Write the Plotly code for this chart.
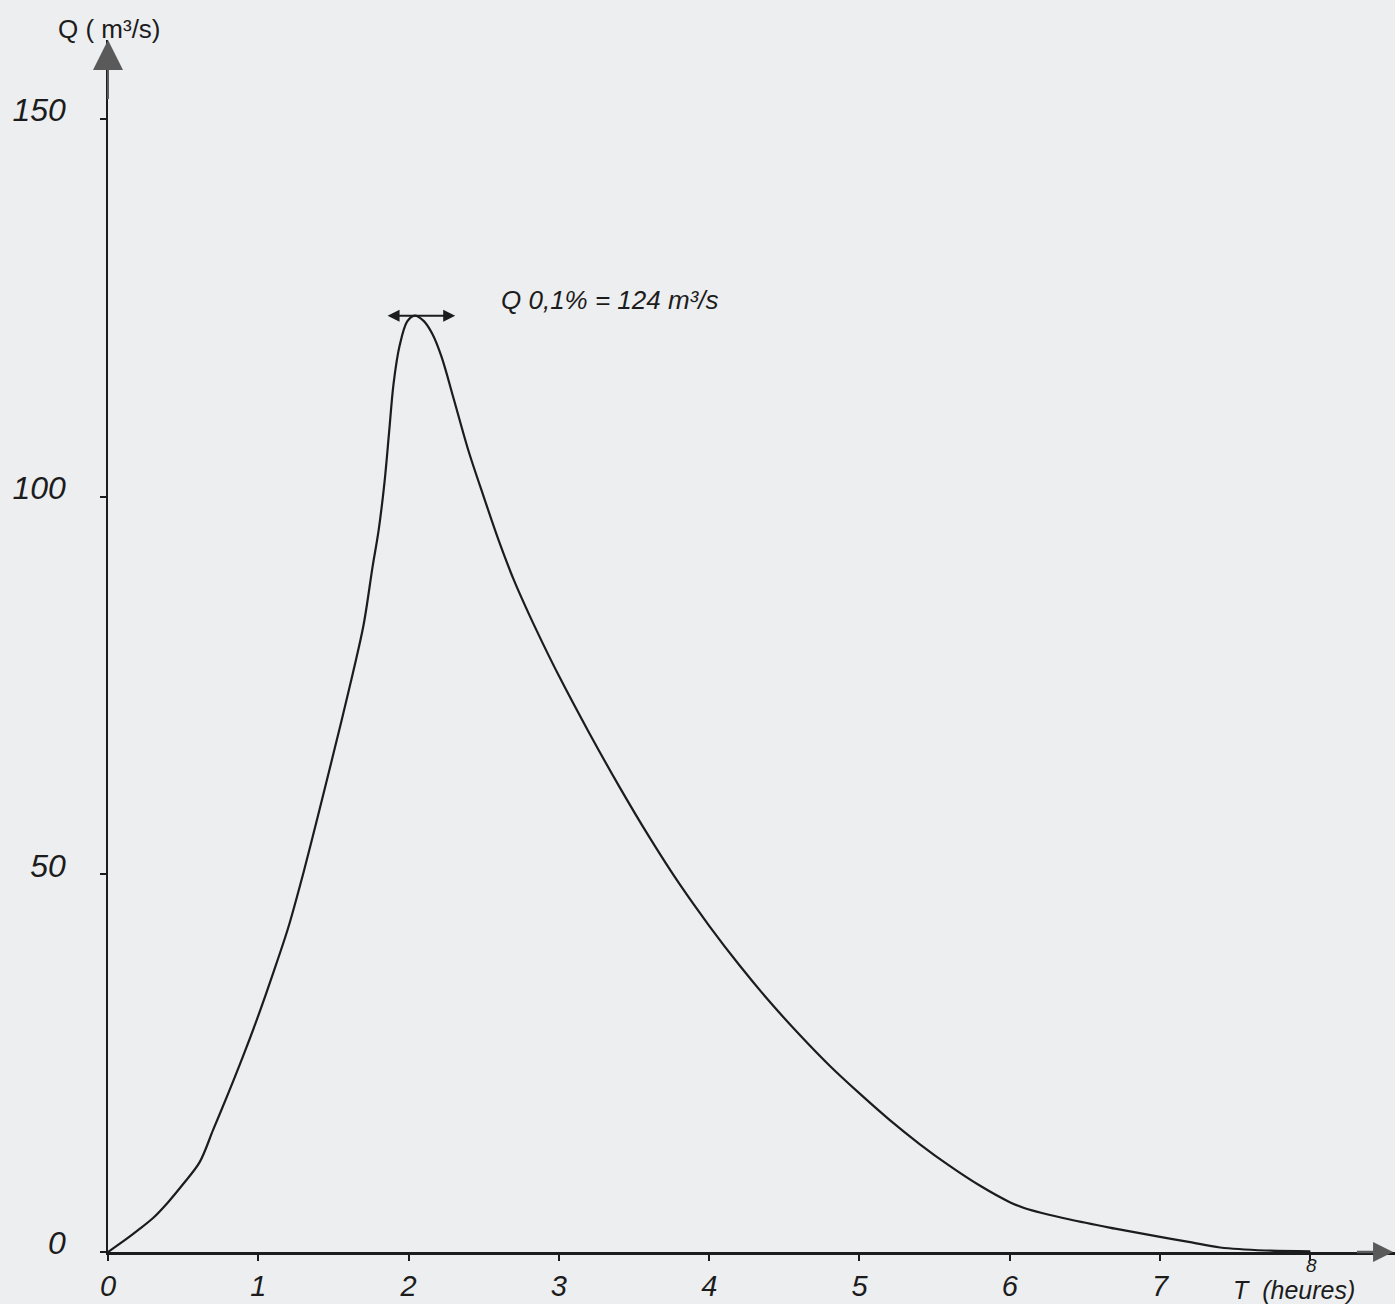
import plotly.graph_objects as go

# Hydrograph data
T_hours = [0, 0.10, 0.20, 0.30, 0.40, 0.50, 0.61, 0.70, 0.80, 0.90, 1.00, 1.10,
           1.20, 1.30, 1.40, 1.50, 1.60, 1.70, 1.76, 1.80, 1.84, 1.87, 1.90, 1.94, 1.99,
           2.04, 2.10, 2.16, 2.22, 2.30, 2.40, 2.50, 2.60, 2.70, 2.80, 2.90, 3.00,
           3.20, 3.40, 3.60, 3.80, 4.00, 4.20, 4.40, 4.60, 4.80, 5.00, 5.20, 5.40,
           5.60, 5.80, 6.00, 6.10, 6.40, 6.70, 7.00, 7.20, 7.40, 7.70, 8.00]
Q_m3s = [0, 1.4, 2.9, 4.5, 6.6, 9.0, 11.9, 16.2, 21.0, 26.0, 31.3, 37.0,
         43.0, 50.2, 58.0, 66.0, 74.2, 83.0, 90.7, 95.5, 102.0, 108.5, 115.0, 120.0, 123.2,
         124.0, 123.3, 121.5, 118.5, 113.0, 106.0, 100.0, 94.2, 89.0, 84.5, 80.3, 76.3,
         68.8, 61.7, 55.0, 48.8, 43.2, 38.0, 33.2, 28.8, 24.7, 21.0, 17.5, 14.3,
         11.4, 8.8, 6.6, 5.8, 4.3, 3.1, 2.0, 1.3, 0.6, 0.2, 0.1]

x_ticks = [0, 1, 2, 3, 4, 5, 6, 7, 8]
x_ticklabels = ["0", "1", "2", "3", "4", "5", "6", "7", ""]
y_ticks = [0, 50, 100, 150]
y_ticklabels = ["0", "50", "100", "150"]

peak_value = 124
peak_time = 2.04

INK = "#1c1c1c"
ARROW = "#5a5a5a"
PAPER = "#eceef0"
HAND = "Liberation Sans"

X_MAX = 8.563
Y_MAX = 160.5


def px(x):
    return x / X_MAX


def py(y):
    return y / Y_MAX


fig = go.Figure()
fig.add_trace(go.Scatter(
    x=T_hours, y=Q_m3s, mode="lines",
    line=dict(color=INK, width=2.2, shape="spline", smoothing=0.9),
    hoverinfo="x+y", showlegend=False,
))

fig.update_layout(
    width=1395, height=1304,
    paper_bgcolor=PAPER, plot_bgcolor=PAPER,
    margin=dict(l=108, r=0, t=40, b=52),
    showlegend=False,
    xaxis=dict(
        range=[0, X_MAX], showgrid=False, zeroline=False,
        showline=True, linecolor=INK, linewidth=2.5,
        tickmode="array", tickvals=x_ticks, ticktext=x_ticklabels,
        ticks="outside", ticklen=6, tickwidth=2, tickcolor=INK,
        tickfont=dict(family=HAND, size=29, color=INK, style="italic"),
        ticklabelstandoff=0,
    ),
    yaxis=dict(
        range=[0, Y_MAX], showgrid=False, zeroline=False,
        showline=True, linecolor=INK, linewidth=1.5,
        tickmode="array", tickvals=y_ticks, ticktext=y_ticklabels,
        ticks="outside", ticklen=6, tickwidth=2, tickcolor=INK,
        tickfont=dict(family=HAND, size=32, color=INK, style="italic"),
        ticklabelstandoff=28, ticklabelshift=-9,
    ),
)

annotations = [
    # y axis arrow head
    dict(x=0, y=Y_MAX, ax=0, ay=Y_MAX - 8, xref="x", yref="y", axref="x", ayref="y",
         text="", showarrow=True, arrowhead=2, arrowsize=3, arrowwidth=2,
         arrowcolor=ARROW, standoff=0),
    # x axis arrow head
    dict(x=8.55, y=0, ax=8.3, ay=0, xref="x", yref="y", axref="x", ayref="y",
         text="", showarrow=True, arrowhead=2, arrowsize=1.6, arrowwidth=2.5,
         arrowcolor=ARROW, standoff=0),
    # peak double arrow
    dict(x=peak_time + 0.27, y=peak_value, ax=peak_time - 0.19, ay=peak_value,
         xref="x", yref="y", axref="x", ayref="y",
         text="", showarrow=True, arrowhead=2, arrowside="end+start",
         arrowsize=1.2, arrowwidth=2, arrowcolor=INK, standoff=0, startstandoff=0),
    dict(x=px(2.60), y=py(126.1), xref="paper", yref="paper",
         xanchor="left", yanchor="middle",
         text=f"Q 0,1% = {peak_value} m³/s", showarrow=False,
         font=dict(family=HAND, size=26, color=INK, style="italic")),
    # axis titles
    dict(x=px(0.01), y=py(161.9), xref="paper", yref="paper",
         xanchor="center", yanchor="middle",
         text="Q ( m³/s)", showarrow=False,
         font=dict(family=HAND, size=26, color=INK)),
    dict(x=px(7.89), y=0, xref="paper", yref="paper",
         xanchor="center", yanchor="middle", yshift=-38,
         text="T  (heures)", showarrow=False,
         font=dict(family=HAND, size=25, color=INK, style="italic")),
    dict(x=px(8.01), y=0, xref="paper", yref="paper",
         xanchor="center", yanchor="top", yshift=-1,
         text="8", showarrow=False,
         font=dict(family=HAND, size=19, color=INK, style="italic")),
]
fig.update_layout(annotations=annotations)

fig.write_html(
    "out.html",
    config={"displayModeBar": False},
    post_script="document.body.style.margin='0';document.body.style.background='#eceef0';",
)
